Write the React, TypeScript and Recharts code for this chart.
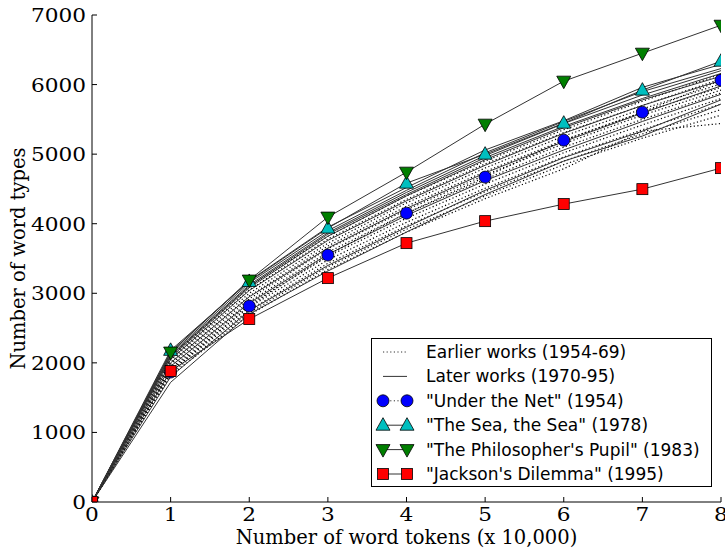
import React from 'react';
import { LineChart, Line, XAxis, YAxis, Legend } from 'recharts';

// tokens read so far, in units of 10,000
const tokens = [0, 1, 2, 3, 4, 5, 6, 7, 8];

// vocabulary growth curves, one per novel
const earlierWorks: number[][] = [
  [0, 2090, 3100, 3820, 4400, 4900, 5350, 5760, 6150],
  [0, 2060, 3050, 3780, 4350, 4860, 5310, 5700, 6080],
  [0, 2040, 3000, 3720, 4300, 4800, 5260, 5650, 6010],
  [0, 2010, 2960, 3680, 4250, 4750, 5200, 5600, 5960],
  [0, 1980, 2920, 3640, 4200, 4700, 5150, 5560, 5920],
  [0, 1950, 2880, 3590, 4150, 4640, 5100, 5500, 5880],
  [0, 1920, 2840, 3530, 4080, 4570, 5020, 5420, 5800],
  [0, 1900, 2800, 3480, 4020, 4510, 4960, 5350, 5720],
  [0, 1880, 2760, 3430, 3970, 4460, 4900, 5290, 5640],
  [0, 1850, 2720, 3380, 3920, 4400, 4850, 5230, 5560],
  [0, 1820, 2690, 3340, 3880, 4360, 4790, 5330, 5440],
];

const laterWorks: number[][] = [
  [0, 2150, 3180, 3950, 4520, 5060, 5480, 5960, 6290],
  [0, 2130, 3150, 3900, 4480, 5020, 5470, 5900, 6230],
  [0, 2110, 3120, 3870, 4450, 4980, 5440, 5850, 6200],
  [0, 2100, 3100, 3850, 4420, 4950, 5400, 5800, 6160],
  [0, 2080, 3080, 3820, 4400, 4920, 5380, 5780, 6120],
  [0, 2050, 3040, 3760, 4330, 4840, 5300, 5700, 6060],
  [0, 2000, 2950, 3650, 4220, 4730, 5180, 5590, 5980],
  [0, 1950, 2860, 3560, 4120, 4620, 5060, 5470, 5860],
  [0, 1800, 2750, 3400, 3950, 4480, 4950, 5330, 5780],
  [0, 1720, 2700, 3320, 3880, 4420, 4900, 5260, 5720],
];

const underTheNet = [0, 1868, 2816, 3549, 4152, 4670, 5201, 5603, 6063];
const seaTheSea = [0, 2180, 3170, 3937, 4583, 5000, 5445, 5920, 6336];
const philosophersPupil = [0, 2155, 3190, 4095, 4741, 5431, 6049, 6451, 6853];
const jacksonsDilemma = [0, 1882, 2629, 3218, 3721, 4037, 4282, 4497, 4799];

const xTicks = [0, 1, 2, 3, 4, 5, 6, 7, 8];
const yTicks = [0, 1000, 2000, 3000, 4000, 5000, 6000, 7000];

const legendLabels = [
  'Earlier works (1954-69)',
  'Later works (1970-95)',
  '"Under the Net" (1954)',
  '"The Sea, the Sea" (1978)',
  '"The Philosopher\'s Pupil" (1983)',
  '"Jackson\'s Dilemma" (1995)',
];

const data = tokens.map((t, i) => {
  const row: Record<string, number> = { t };
  earlierWorks.forEach((s, k) => (row[`e${k}`] = s[i]));
  laterWorks.forEach((s, k) => (row[`l${k}`] = s[i]));
  row.net = underTheNet[i];
  row.sea = seaTheSea[i];
  row.pupil = philosophersPupil[i];
  row.jackson = jacksonsDilemma[i];
  return row;
});

const LINE = '#333';
const DOTTED = '1.2 2.4';
const serif = "'DejaVu Serif', serif";
const sans = "'DejaVu Sans', sans-serif";

const circle = (cx: number, cy: number, key?: string) => (
  <circle key={key} cx={cx} cy={cy} r={6} fill="#0000ff" stroke="#000" strokeWidth={0.8} />
);
const triUp = (cx: number, cy: number, key?: string) => (
  <polygon key={key} points={`${cx},${cy - 7.5} ${cx - 7},${cy + 5} ${cx + 7},${cy + 5}`}
    fill="#00bfbf" stroke="#000" strokeWidth={0.8} />
);
const triDown = (cx: number, cy: number, key?: string) => (
  <polygon key={key} points={`${cx},${cy + 7.5} ${cx - 7},${cy - 5} ${cx + 7},${cy - 5}`}
    fill="#007f00" stroke="#000" strokeWidth={0.8} />
);
const square = (cx: number, cy: number, key?: string) => (
  <rect key={key} x={cx - 5.5} y={cy - 5.5} width={11} height={11} fill="#ff0000" stroke="#000" strokeWidth={0.8} />
);

const dotOf = (shape: typeof circle) => (p: any) => shape(p.cx, p.cy, p.key ?? `${p.cx}-${p.cy}`);

// tick labels are drawn a little wide, as in the original plot
const TickText = ({ x, y, anchor, value }: { x: number; y: number; anchor: string; value: number }) => (
  <text transform={`translate(${x},${y}) scale(1.14,1)`} textAnchor={anchor as any}
    fontFamily={serif} fontSize={19} fill="#000">
    {value}
  </text>
);

const BottomTick = (p: any) => (
  <g>
    <line x1={p.x} x2={p.x} y1={p.y} y2={p.y - 5} stroke="#000" />
    <TickText x={p.x} y={p.y + 19} anchor="middle" value={p.payload.value} />
  </g>
);
const TopTick = (p: any) => <line x1={p.x} x2={p.x} y1={p.y} y2={p.y + 5} stroke="#000" />;
const LeftTick = (p: any) => (
  <g>
    <line x1={p.x} x2={p.x + 5} y1={p.y} y2={p.y} stroke="#000" />
    <TickText x={p.x - 6} y={p.y + 7} anchor="end" value={p.payload.value} />
  </g>
);
const RightTick = (p: any) => <line x1={p.x} x2={p.x - 5} y1={p.y} y2={p.y} stroke="#000" />;

const LegendBox = () => {
  const rowY = (i: number) => 14 + i * 24.4;
  const markers = [null, null, circle, triUp, triDown, square];
  return (
    <svg width={341} height={149} style={{ display: 'block' }}>
      <rect x={0.5} y={0.5} width={340} height={148} fill="#fff" stroke="#000" />
      {legendLabels.map((label, i) => {
        const y = rowY(i);
        const m = markers[i];
        return (
          <g key={label}>
            <line x1={12} x2={36} y1={y} y2={y} stroke={LINE}
              strokeDasharray={i === 0 || i === 2 ? DOTTED : undefined} />
            {m && m(12, y)}
            {m && m(36, y)}
            <text x={55} y={y + 6} fontFamily={sans} fontSize={17} fill="#000">{label}</text>
          </g>
        );
      })}
    </svg>
  );
};

export default function App() {
  return (
    <div style={{ position: 'absolute', left: 0, top: 0, width: 725, height: 552, background: '#fff' }}>
      <LineChart width={725} height={552} data={data} margin={{ top: 15, right: 4, left: 0, bottom: 0 }}>
        <XAxis dataKey="t" type="number" domain={[0, 8]} ticks={xTicks} allowDataOverflow
          height={50} tickSize={0} tickMargin={0} tickLine={false} tick={<BottomTick />}
          axisLine={{ stroke: '#000' }}
          label={{ value: 'Number of word tokens (x 10,000)', position: 'insideBottom', offset: 8,
            style: { fontFamily: serif, fontSize: 19.5, fill: '#000' } }} />
        <XAxis xAxisId="top" orientation="top" type="number" domain={[0, 8]} ticks={xTicks}
          allowDataOverflow height={0} tickSize={0} tickMargin={0} tickLine={false}
          tick={<TopTick />} axisLine={{ stroke: '#000' }} />
        <YAxis type="number" domain={[0, 7000]} ticks={yTicks} allowDataOverflow width={92}
          tickSize={0} tickMargin={0} tickLine={false} tick={<LeftTick />} axisLine={{ stroke: '#000' }}
          label={{ value: 'Number of word types', angle: -90, position: 'insideLeft', offset: 18,
            style: { fontFamily: serif, fontSize: 19.5, fill: '#000', textAnchor: 'middle' } }} />
        <YAxis yAxisId="right" orientation="right" type="number" domain={[0, 7000]} ticks={yTicks}
          allowDataOverflow width={0} tickSize={0} tickMargin={0} tickLine={false}
          tick={<RightTick />} axisLine={{ stroke: '#000' }} />

        {earlierWorks.map((_, k) => (
          <Line key={`e${k}`} dataKey={`e${k}`} stroke="#000" strokeWidth={1.2} strokeDasharray={DOTTED}
            dot={false} isAnimationActive={false} />
        ))}
        {laterWorks.map((_, k) => (
          <Line key={`l${k}`} dataKey={`l${k}`} stroke={LINE} strokeWidth={1} dot={false}
            isAnimationActive={false} />
        ))}
        <Line dataKey="net" stroke="#000" strokeWidth={1.2} strokeDasharray={DOTTED}
          dot={dotOf(circle)} isAnimationActive={false} />
        <Line dataKey="sea" stroke={LINE} strokeWidth={1} dot={dotOf(triUp)} isAnimationActive={false} />
        <Line dataKey="pupil" stroke={LINE} strokeWidth={1} dot={dotOf(triDown)} isAnimationActive={false} />
        <Line dataKey="jackson" stroke={LINE} strokeWidth={1} dot={dotOf(square)} isAnimationActive={false} />

        <Legend layout="vertical" align="center" verticalAlign="middle" content={<LegendBox />}
          wrapperStyle={{ left: 371, top: 338, width: 341, height: 149 }} />
      </LineChart>
    </div>
  );
}
